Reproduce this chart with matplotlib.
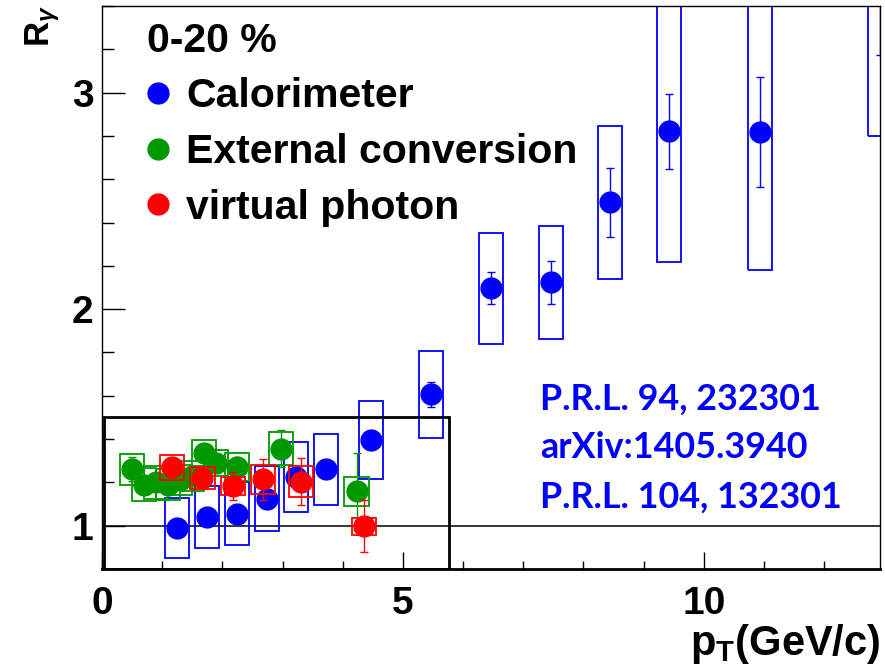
import matplotlib
matplotlib.use('Agg')
import matplotlib.pyplot as plt
from matplotlib.patches import Rectangle
from matplotlib.lines import Line2D
from matplotlib.ticker import MultipleLocator

# ---------------- data ----------------
calo_pt = [1.24, 1.74, 2.24, 2.74, 3.23, 3.73, 4.47, 5.47, 6.46, 7.46, 8.44, 9.43, 10.93, 12.93]
calo_R = [0.99, 1.04, 1.055, 1.125, 1.225, 1.26, 1.395, 1.607, 2.097, 2.124, 2.493, 2.822, 2.817, 3.55]
calo_stat = [0.02, 0.02, 0.02, 0.02, 0.02, 0.02, 0.025, 0.058, 0.075, 0.10, 0.16, 0.173, 0.255, 0.375]
calo_sys = [0.14, 0.145, 0.145, 0.15, 0.16, 0.165, 0.18, 0.20, 0.256, 0.261, 0.355, 0.606, 0.636, 0.75]

conv_pt = [0.5, 0.7, 0.9, 1.1, 1.3, 1.5, 1.7, 1.9, 2.25, 2.98, 4.23]
conv_R = [1.26, 1.19, 1.20, 1.19, 1.21, 1.23, 1.335, 1.29, 1.27, 1.356, 1.158]
conv_stat = [0.055, 0.03, 0.03, 0.03, 0.03, 0.03, 0.03, 0.04, 0.045, 0.085, 0.18]
conv_sys = [0.07, 0.078, 0.075, 0.07, 0.07, 0.07, 0.06, 0.06, 0.064, 0.076, 0.065]

vp_pt = [1.16, 1.67, 2.17, 2.68, 3.31, 4.35]
vp_R = [1.269, 1.22, 1.183, 1.214, 1.204, 0.997]
vp_stat = [0.03, 0.03, 0.064, 0.096, 0.11, 0.12]
vp_sys = [0.057, 0.05, 0.04, 0.067, 0.072, 0.038]

series_labels = ['Calorimeter', 'External conversion', 'virtual photon']
centrality = '0-20 %'
refs = ['P.R.L. 94, 232301', 'arXiv:1405.3940', 'P.R.L. 104, 132301']

BLUE = '#0000ff'
GREEN = '#009900'
RED = '#ff0000'

# ---------------- style ----------------
plt.rcParams['font.family'] = ['Liberation Sans', 'DejaVu Sans']
plt.rcParams['font.weight'] = 'bold'
plt.rcParams['mathtext.fontset'] = 'custom'
plt.rcParams['mathtext.rm'] = 'Liberation Sans:bold'
plt.rcParams['mathtext.bf'] = 'Liberation Sans:bold'
plt.rcParams['mathtext.it'] = 'Liberation Sans:italic'

fig = plt.figure(figsize=(8.85, 6.7), dpi=100)
ax = fig.add_axes([102 / 885, 101 / 670, 778 / 885, 563 / 670])

BOX_HW = 0.2


def draw(pt, R, stat, sys, color, z, label):
    for x, y, s in zip(pt, R, sys):
        ax.add_patch(Rectangle((x - BOX_HW, y - s), 2 * BOX_HW, 2 * s, fill=False,
                               edgecolor=color, lw=1.3, zorder=z))
    ax.errorbar(pt, R, yerr=stat, fmt='none', ecolor=color, elinewidth=1.0,
                capsize=2.8, capthick=1.0, zorder=z + 0.1)
    ax.plot(pt, R, 'o', color=color, mec=color, ms=15, zorder=z + 0.2, label=label,
            linestyle='none')


ax.axhline(1.0, color='black', lw=1.1, zorder=1)
draw(calo_pt, calo_R, calo_stat, calo_sys, BLUE, 2, series_labels[0])
draw(conv_pt, conv_R, conv_stat, conv_sys, GREEN, 3, series_labels[1])
draw(vp_pt, vp_R, vp_stat, vp_sys, RED, 4, series_labels[2])

# zoom-region frame
ax.add_patch(Rectangle((0.03, 0.8), 5.74, 0.7, fill=False, edgecolor='black', lw=2.0, zorder=6))

ax.set_xlim(0, 12.93)
ax.set_ylim(0.8, 3.4)
ax.set_xticks([0, 5, 10])
ax.xaxis.set_minor_locator(MultipleLocator(1))
ax.set_yticks([1, 2, 3])
ax.yaxis.set_minor_locator(MultipleLocator(0.2))

ax.tick_params(axis='x', which='major', direction='in', length=12, width=1, labelsize=28, pad=12)
ax.tick_params(axis='x', which='minor', direction='in', length=6, width=1)
ax.tick_params(axis='y', which='major', direction='in', length=16.5, width=1, labelsize=28, pad=6)
ax.tick_params(axis='y', which='minor', direction='in', length=8.5, width=1)

for side in ['left', 'top', 'right']:
    ax.spines[side].set_linewidth(1.0)
ax.spines['bottom'].set_linewidth(2.0)

ax.set_ylabel(r'$\mathbf{R}_{\gamma}$', fontsize=25, loc='top')
ax.yaxis.set_label_coords(-0.052, 1.002)
ax.set_xlabel(r'$\mathbf{p}_{\mathbf{T}}\mathbf{(GeV/c)}$', fontsize=30, loc='right')
ax.xaxis.set_label_coords(1.0, -0.094)

handles = [Line2D([], [], marker='o', color=c, mec=c, ms=15, linestyle='none')
           for c in (BLUE, GREEN, RED)]
leg = ax.legend(handles, series_labels, title=centrality, loc='upper left',
                bbox_to_anchor=(0.058, 0.972), frameon=False, fontsize=29.5,
                title_fontproperties={'size': 29.5, 'weight': 'bold'},
                handlelength=0.55, handletextpad=0.4, labelspacing=0.43,
                borderpad=0, borderaxespad=0, alignment='left')

for i, t in enumerate(refs):
    ax.text(0.563, 0.302 - i * 0.087, t, transform=ax.transAxes, ha='left', va='center',
            fontsize=25.8, fontfamily='Lato', fontweight='bold', color=BLUE)

fig.savefig('out.png', dpi=100)
